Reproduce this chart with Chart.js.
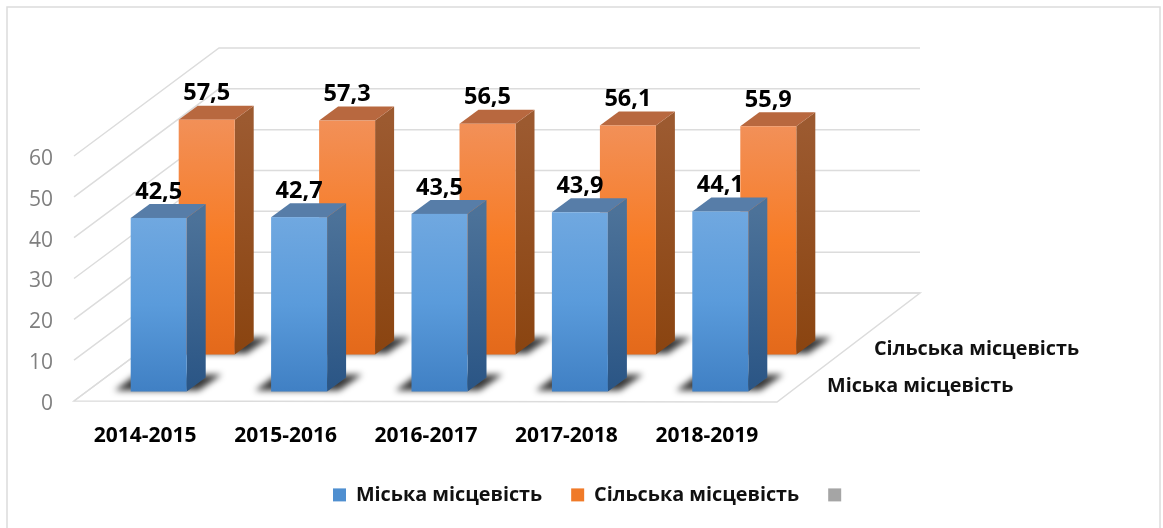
<!DOCTYPE html>
<html>
<head>
<meta charset="utf-8">
<style>html,body{margin:0;padding:0;background:#fff}canvas{display:block}</style>
<script src="https://cdn.jsdelivr.net/npm/chart.js@4"></script>
</head>
<body>
<canvas id="c" width="1163" height="528"></canvas>
<script>
const categories = ['2014-2015','2015-2016','2016-2017','2017-2018','2018-2019'];
const urbanName = 'Міська місцевість';
const ruralName = 'Сільська місцевість';
const urbanValues = [42.5,42.7,43.5,43.9,44.1];
const ruralValues = [57.5,57.3,56.5,56.1,55.9];
const yTicks = [0,10,20,30,40,50,60];

const FONT = '"Open Sans", sans-serif';
const GRID = '#dcdcdc';
const wall = {dx:145, dy:-108, rightDx:143};
const barDepth = {dx:19, dy:-14};
const looks = [
  {dx:13.5, dy:-9.5, front:['#70a8e0','#5a9bdb','#4080c4'], side:['#4c7299','#2a5585'], top:'#577da8'},
  {dx:61.5, dy:-46.5, front:['#f29058','#f77c26','#e3691b'], side:['#9c5a30','#8a4410'], top:'#b8683f'}
];

function poly(ctx, pts){
  ctx.beginPath();
  pts.forEach((p,i)=> i ? ctx.lineTo(p[0],p[1]) : ctx.moveTo(p[0],p[1]));
  ctx.closePath();
}
function grad(ctx, y0, y1, stops){
  const g = ctx.createLinearGradient(0,y0,0,y1);
  stops.forEach((c,i)=> g.addColorStop(i/(stops.length-1), c));
  return g;
}

const threeD = {
  id:'threeD',
  afterLayout(chart){
    const l = chart.legend;
    l.left = 304; l.right = 1163; l.top = 456; l.bottom = 528;
  },
  beforeDatasetsDraw(chart){
    const {ctx, scales:{x,y}} = chart;
    const L = x.left, R = x.right;
    ctx.save();
    ctx.strokeStyle = GRID; ctx.lineWidth = 1.5;
    ctx.strokeRect(7,7,1153,560);
    const y0 = y.getPixelForValue(0);
    // floor
    poly(ctx,[[L-1,y0],[R,y0+1],[R+wall.rightDx,y0+wall.dy],[L-1+wall.dx,y0+wall.dy]]);
    ctx.stroke();
    // walls
    yTicks.forEach(v=>{
      const p = y.getPixelForValue(v);
      ctx.beginPath();
      ctx.moveTo(L-1,p);
      ctx.lineTo(L-1+wall.dx,p+wall.dy);
      ctx.lineTo(R+wall.rightDx,p+wall.dy);
      ctx.stroke();
    });
    ctx.restore();
  },
  beforeDatasetDraw(chart,args){
    const look = looks[args.index];
    if(!look) return false;
    const ctx = chart.ctx;
    args.meta.data.forEach(bar=>{
      const x0 = bar.x - bar.width/2 + look.dx, x1 = x0 + bar.width;
      const top = bar.y + look.dy, base = bar.base + look.dy;
      const d = barDepth;
      // cast shadow
      ctx.save();
      ctx.filter = 'blur(3px)';
      ctx.fillStyle = 'rgba(0,0,0,0.78)';
      poly(ctx,[[x0-16,base-1],[x0+4,base-16],[x1+d.dx+16,base-17],[x1+12,base-1]]);
      ctx.fill();
      ctx.restore();
      // right side
      ctx.fillStyle = grad(ctx,top,base,look.side);
      poly(ctx,[[x1,top],[x1+d.dx,top+d.dy],[x1+d.dx,base+d.dy],[x1,base]]);
      ctx.fill();
      // top
      ctx.fillStyle = look.top;
      poly(ctx,[[x0,top],[x0+d.dx,top+d.dy],[x1+d.dx,top+d.dy],[x1,top]]);
      ctx.fill();
      // front
      ctx.fillStyle = grad(ctx,top,base,look.front);
      ctx.fillRect(x0,top,x1-x0,base-top);
    });
    return false;
  },
  afterDatasetsDraw(chart){
    const ctx = chart.ctx;
    ctx.save();
    ctx.textAlign = 'center'; ctx.textBaseline = 'middle';
    ctx.font = 'bold 23.5px '+FONT;
    ctx.fillStyle = '#000';
    [1,0].forEach(i=>{
      const meta = chart.getDatasetMeta(i), look = looks[i];
      const vals = chart.data.datasets[i].data;
      meta.data.forEach((bar,k)=>{
        ctx.fillText(vals[k].toFixed(1).replace('.',','), bar.x+look.dx, bar.y+look.dy-26);
      });
    });
    // depth axis names
    ctx.textAlign = 'left';
    ctx.font = 'bold 19.8px '+FONT;
    ctx.fillStyle = '#111';
    ctx.fillText(ruralName, 874, 349);
    ctx.fillText(urbanName, 827, 386);
    ctx.restore();
  }
};

new Chart(document.getElementById('c'),{
  type:'bar',
  data:{
    labels:categories,
    datasets:[
      {label:urbanName, data:urbanValues, backgroundColor:'#4f8fd0', grouped:false, barThickness:56},
      {label:ruralName, data:ruralValues, backgroundColor:'#f07a28', grouped:false, barThickness:56},
      {label:'', data:[], backgroundColor:'#a5a5a5', grouped:false, barThickness:56}
    ]
  },
  plugins:[threeD],
  options:{
    responsive:false, animation:false,
    layout:{padding:{left:0,top:156,right:386,bottom:0}},
    plugins:{
      tooltip:{enabled:false},
      legend:{
        position:'bottom', align:'start', maxHeight:1,
        labels:{
          boxWidth:13, boxHeight:13, padding:29, color:'#111',
          font:{family:FONT, size:19.8, weight:'bold'}
        }
      }
    },
    scales:{
      x:{
        afterFit(s){ s.height = 126; },
        grid:{display:false}, border:{display:false},
        ticks:{color:'#000', padding:14, maxRotation:0, font:{family:FONT,size:21,weight:'bold'}}
      },
      y:{
        min:0, max:60,
        afterFit(s){ s.width = 75; },
        grid:{display:false}, border:{display:false},
        ticks:{stepSize:10, color:'#7f7f7f', padding:14, labelOffset:3, font:{family:FONT,size:21}}
      }
    }
  }
});
</script>
</body>
</html>
